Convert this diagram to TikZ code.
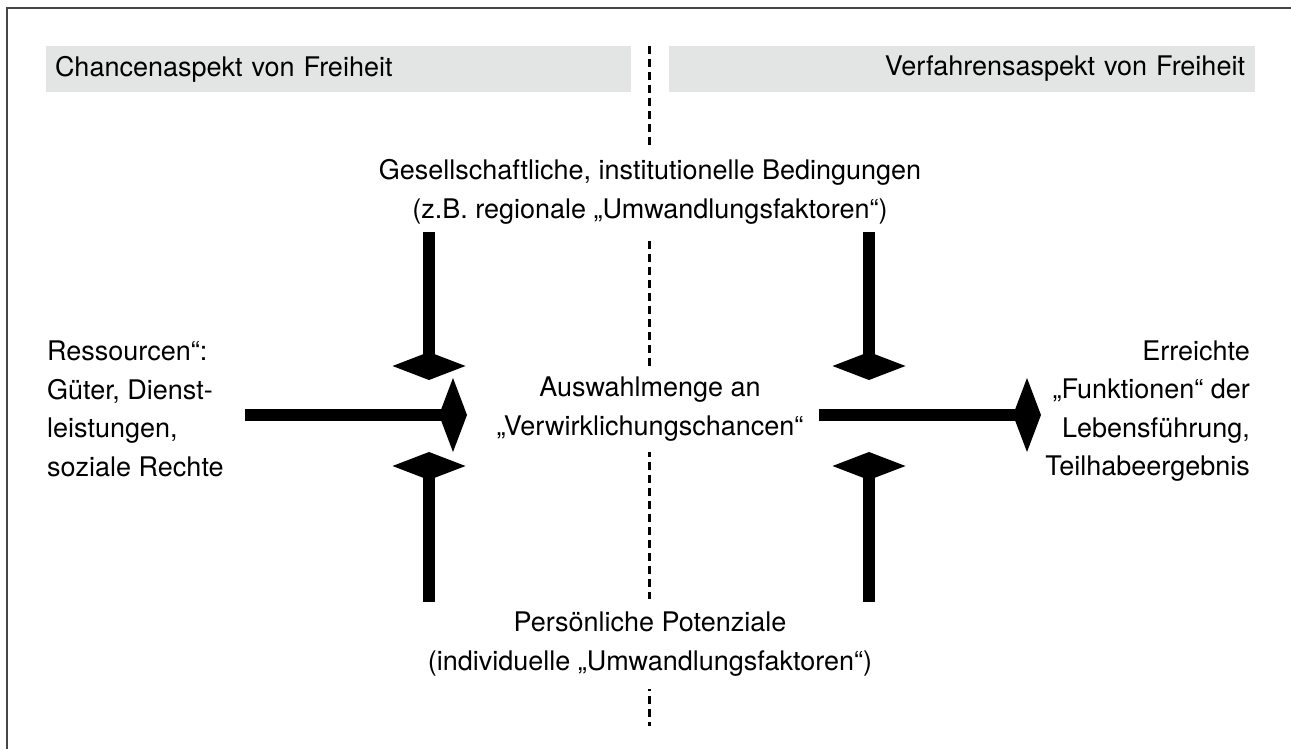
\documentclass[tikz,border=0pt]{standalone}
\usepackage{fontspec}
\setmainfont{TeX Gyre Heros}
\definecolor{hdrgray}{RGB}{227,228,228}
\definecolor{framegray}{RGB}{70,70,70}
\tikzset{
  txt/.style={font=\fontsize{27}{38.5}\selectfont, inner sep=0pt},
  cover/.style={txt, fill=white, align=center, inner xsep=6pt},
  hdr/.style={txt, fill=hdrgray, minimum height=46pt, inner ysep=0pt},
  stem/.style={line width=12pt},
  divider/.style={line width=3.4pt, dash pattern=on 8pt off 5pt},
  frameline/.style={line width=2pt, draw=framegray},
  vhead/.pic={\fill (-36.5,0) -- (0,-14) -- (36.5,0) -- (0,14) -- cycle;},
  hhead/.pic={\fill (-14,0) -- (0,-37) -- (14,0) -- (0,37) -- cycle;}
}
\begin{document}
\begin{tikzpicture}[x=1pt,y=-1pt]
\useasboundingbox (0,0) rectangle (1291,749);

% open frame: top and left edges
\coordinate (fc) at (7,8);
\coordinate (fr) at (1291,8);
\coordinate (fb) at (7,749);
\draw[frameline] (fr) -- (fc) -- (fb);

% headers
\node[hdr, text width=567pt, inner xsep=9pt, align=left] (hl) at (338.5,69) {Chancenaspekt von Freiheit};
\node[hdr, text width=566pt, inner xsep=10pt, align=right] (hr) at (962,69) {Verfahrensaspekt von Freiheit};

% vertical divider
\coordinate (dtop) at (649.5,46);
\coordinate (dbot) at (649.5,726);
\draw[divider] (dtop) -- (dbot);

% texts on the divider
\node[cover, minimum height=87pt] (cond) at (650,192)
  {Gesellschaftliche, institutionelle Bedingungen\\(z.B. regionale „Umwandlungsfaktoren“)};
\node[cover, minimum height=85pt] (sel) at (650,409)
  {Auswahlmenge an\\„Verwirklichungschancen“};
\node[cover, minimum height=90pt] (pot) at (650,644)
  {Persönliche Potenziale\\(individuelle „Umwandlungsfaktoren“)};

% side texts
\node[txt, align=left, anchor=west] (res) at (47,409)
  {Ressourcen“:\\Güter, Dienst-\\leistungen,\\soziale Rechte};
\node[txt, align=right, anchor=east] (fun) at (1250,411)
  {Erreichte\\„Funktionen“ der\\Lebensführung,\\Teilhabeergebnis};

% arrow anchor points
\coordinate (tlS) at (429,232);  \coordinate (tlH) at (429,366);
\coordinate (blS) at (429,602);  \coordinate (blH) at (429,466);
\coordinate (trS) at (869,232);  \coordinate (trH) at (869,366);
\coordinate (brS) at (869,602);  \coordinate (brH) at (869,466);
\coordinate (lS)  at (245,415);  \coordinate (lH)  at (453,415);
\coordinate (rS)  at (819,415);  \coordinate (rH)  at (1027,415);

% stems
\draw[stem] (tlS) -- (tlH);
\draw[stem] (blS) -- (blH);
\draw[stem] (trS) -- (trH);
\draw[stem] (brS) -- (brH);
\draw[stem] (lS) -- (lH);
\draw[stem] (rS) -- (rH);

% diamond heads
\pic at (tlH) {vhead};
\pic at (blH) {vhead};
\pic at (trH) {vhead};
\pic at (brH) {vhead};
\pic at (lH) {hhead};
\pic at (rH) {hhead};
\end{tikzpicture}
\end{document}
